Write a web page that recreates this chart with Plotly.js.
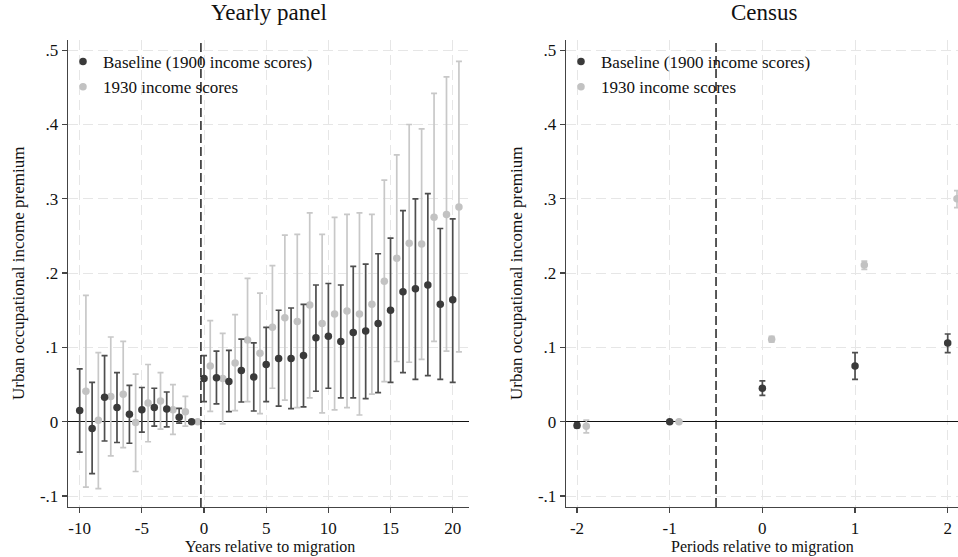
<!DOCTYPE html>
<html>
<head>
<meta charset="utf-8">
<script src="https://cdn.plot.ly/plotly-3.0.1.min.js"></script>
<style>html,body{margin:0;padding:0;background:#fff;}#chart{width:958px;height:557px;}</style>
</head>
<body>
<div id="chart"></div>
<script>
// ---------- Yearly panel ----------
const yearsBase = [-10,-9,-8,-7,-6,-5,-4,-3,-2,-1,0,1,2,3,4,5,6,7,8,9,10,11,12,13,14,15,16,17,18,19,20];
const estBase   = [.015,-.009,.033,.019,.010,.016,.019,.017,.006,0,.058,.059,.054,.069,.060,.077,.085,.085,.089,.113,.115,.108,.120,.122,.132,.150,.175,.179,.184,.158,.164];
const loBase    = [-.041,-.070,-.026,-.028,-.029,-.014,-.006,-.007,-.002,null,.027,.024,.0135,.0265,.0144,.027,.021,.0175,.020,.041,.045,.032,.032,.031,.039,.053,.066,.057,.062,.057,.053];
const hiBase    = [.071,.053,.089,.066,.049,.046,.045,.040,.018,null,.089,.095,.096,.111,.106,.127,.150,.153,.158,.184,.186,.184,.209,.212,.226,.247,.284,.300,.307,.260,.273];

const years1930 = [-9.5,-8.5,-7.5,-6.5,-5.5,-4.5,-3.5,-2.5,-1.5,-0.5,0.5,1.5,2.5,3.5,4.5,5.5,6.5,7.5,8.5,9.5,10.5,11.5,12.5,13.5,14.5,15.5,16.5,17.5,18.5,19.5,20.5];
const est1930   = [.041,.002,.034,.037,-.001,.025,.028,.016,.0135,0,.075,.058,.079,.110,.092,.127,.140,.135,.157,.132,.145,.149,.145,.158,.189,.220,.240,.239,.275,.279,.289];
const lo1930    = [-.088,-.090,-.046,-.035,-.067,-.027,-.010,-.017,-.006,null,.014,-.003,.015,.027,.011,.045,.029,.019,.032,.012,.016,.019,.009,.037,.054,.081,.080,.084,.108,.095,.094];
const hi1930    = [.170,.093,.114,.108,.064,.077,.066,.050,.034,null,.136,.119,.144,.193,.173,.210,.251,.252,.281,.252,.275,.279,.281,.279,.325,.359,.400,.394,.442,.464,.485];

// ---------- Census panel ----------
const periodsBase = [-2,-1,0,1,2];
const censusBase   = [-.005,0,.045,.075,.106];
const censusLoBase = [-.008,null,.0355,.057,.093];
const censusHiBase = [-.002,null,.055,.093,.118];

const periods1930 = [-1.9,-0.9,0.1,1.1,2.1];
const census1930   = [-.006,0,.111,.211,.300];
const censusLo1930 = [-.015,null,.107,.205,.288];
const censusHi1930 = [.002,null,.115,.216,.311];

const yTickVals = [-0.1,0,0.1,0.2,0.3,0.4,0.5];
const yTickText = ['-.1','0','.1','.2','.3','.4','.5'];
const xTicksYear = [-10,-5,0,5,10,15,20];
const xTicksYearText = ['-10','-5','0','5','10','15','20'];
const xTicksPeriod = [-2,-1,0,1,2];
const xTicksPeriodText = ['-2','-1','0','1','2'];

const DARK = '#3a3a3a', DARKBAR = '#4e4e4e', LIGHT = '#c2c2c2', LIGHTBAR = '#c8c8c8';

function errs(est, lo, hi) {
  return {
    plus: est.map((v,i) => hi[i] === null ? null : hi[i] - v),
    minus: est.map((v,i) => lo[i] === null ? null : v - lo[i])
  };
}
function trace(x, est, lo, hi, name, col, barcol, xa, ya, leg) {
  const e = errs(est, lo, hi);
  return {
    type: 'scatter', mode: 'markers', x: x, y: est, name: name,
    xaxis: xa, yaxis: ya, legend: leg,
    marker: {color: col, size: 7.5},
    error_y: {type: 'data', symmetric: false, array: e.plus, arrayminus: e.minus,
              color: barcol, thickness: 1.7, width: 3}
  };
}

const data = [
  trace(years1930, est1930, lo1930, hi1930, '1930 income scores', LIGHT, LIGHTBAR, 'x', 'y', 'legend'),
  trace(yearsBase, estBase, loBase, hiBase, 'Baseline (1900 income scores)', DARK, DARKBAR, 'x', 'y', 'legend'),
  trace(periods1930, census1930, censusLo1930, censusHi1930, '1930 income scores', LIGHT, LIGHTBAR, 'x2', 'y2', 'legend2'),
  trace(periodsBase, censusBase, censusLoBase, censusHiBase, 'Baseline (1900 income scores)', DARK, DARKBAR, 'x2', 'y2', 'legend2')
];

const W = 958, H = 557;
const yDom = [(H-507)/H, (H-40)/H];
const axCommon = {
  ticks: 'outside', ticklen: 5, tickwidth: 1.2, tickcolor: '#444',
  showline: true, linecolor: '#444', linewidth: 1.3, mirror: false,
  showgrid: true, gridcolor: '#e6e6e6', gridwidth: 1, griddash: '10px,5px',
  tickfont: {size: 17, color: '#111', family: 'Liberation Serif'},
  fixedrange: true
};
const yCommon = Object.assign({}, axCommon, {
  range: [-0.1148, 0.5137], tickvals: yTickVals, ticktext: yTickText,
  zeroline: true, zerolinecolor: '#111', zerolinewidth: 1.4, domain: yDom
});

const layout = {
  width: W, height: H,
  margin: {l: 0, r: 0, t: 0, b: 0},
  paper_bgcolor: '#fff', plot_bgcolor: '#fff',
  font: {family: 'Liberation Serif', color: '#111', size: 17},
  showlegend: true,
  xaxis: Object.assign({}, axCommon, {domain: [68/W, 469/W], range: [-10.94, 21.31], tickvals: xTicksYear, ticktext: xTicksYearText, zeroline: false, anchor: 'y'}),
  yaxis: Object.assign({}, yCommon, {anchor: 'x'}),
  xaxis2: Object.assign({}, axCommon, {domain: [566/W, 1], range: [-2.119, 2.111], tickvals: xTicksPeriod, ticktext: xTicksPeriodText, zeroline: false, anchor: 'y2'}),
  yaxis2: Object.assign({}, yCommon, {anchor: 'x2'}),
  legend: {x: 63/W, y: 1 - 44/H, xanchor: 'left', yanchor: 'top', bgcolor: 'rgba(0,0,0,0)',
           font: {size: 17, family: 'Liberation Serif', color: '#111'}, traceorder: 'reversed'},
  legend2: {x: 561/W, y: 1 - 44/H, xanchor: 'left', yanchor: 'top', bgcolor: 'rgba(0,0,0,0)',
           font: {size: 17, family: 'Liberation Serif', color: '#111'}, traceorder: 'reversed'},
  shapes: [
    {type: 'line', xref: 'x', yref: 'y domain', x0: -0.25, x1: -0.25, y0: 0, y1: 1,
     line: {color: '#222', width: 1.5, dash: '9px,4px'}},
    {type: 'line', xref: 'x2', yref: 'y2 domain', x0: -0.5, x1: -0.5, y0: 0, y1: 1,
     line: {color: '#222', width: 1.5, dash: '9px,4px'}}
  ],
  annotations: [
    {text: 'Yearly panel', xref: 'paper', yref: 'paper', x: 269/W, y: 1 - 12/H, xanchor: 'center', yanchor: 'middle', showarrow: false, font: {size: 23, color: '#111'}},
    {text: 'Census', xref: 'paper', yref: 'paper', x: 764/W, y: 1 - 12/H, xanchor: 'center', yanchor: 'middle', showarrow: false, font: {size: 23, color: '#111'}},
    {text: 'Years relative to migration', xref: 'paper', yref: 'paper', x: 270/W, y: 1 - 547/H, xanchor: 'center', yanchor: 'middle', showarrow: false, font: {size: 16, color: '#111'}},
    {text: 'Periods relative to migration', xref: 'paper', yref: 'paper', x: 762/W, y: 1 - 547/H, xanchor: 'center', yanchor: 'middle', showarrow: false, font: {size: 16, color: '#111'}},
    {text: 'Urban occupational income premium', xref: 'paper', yref: 'paper', x: 18/W, y: 1 - 273/H, xanchor: 'center', yanchor: 'middle', textangle: -90, showarrow: false, font: {size: 17, color: '#111'}},
    {text: 'Urban occupational income premium', xref: 'paper', yref: 'paper', x: 516/W, y: 1 - 273/H, xanchor: 'center', yanchor: 'middle', textangle: -90, showarrow: false, font: {size: 17, color: '#111'}}
  ]
};

Plotly.newPlot('chart', data, layout, {displayModeBar: false, staticPlot: true});
</script>
</body>
</html>
